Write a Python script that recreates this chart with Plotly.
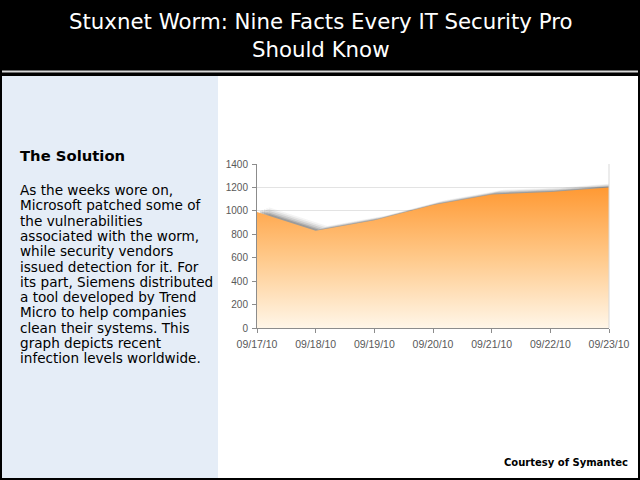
import plotly.graph_objects as go

dates = ["09/17/10", "09/18/10", "09/19/10", "09/20/10", "09/21/10", "09/22/10", "09/23/10"]
infections = [990, 830, 920, 1050, 1140, 1160, 1200]
y_ticks = [0, 200, 400, 600, 800, 1000, 1200, 1400]

title_text = "Stuxnet Worm: Nine Facts Every IT Security Pro<br>Should Know"
heading = "The Solution"
body_lines = [
    "As the weeks wore on,",
    "Microsoft patched some of",
    "the vulnerabilities",
    "associated with the worm,",
    "while security vendors",
    "issued detection for it. For",
    "its part, Siemens distributed",
    "a tool developed by Trend",
    "Micro to help companies",
    "clean their systems. This",
    "graph depicts recent",
    "infection levels worldwide.",
]
credit = "Courtesy of Symantec"

W, H = 640, 480
def px(x):
    return x / W
def py(y):
    return 1 - y / H

xs = list(range(len(dates)))
fig = go.Figure()

# soft shadow layers behind the area
for dx, dy, a in [(0.20, 40, 0.05), (0.16, 32, 0.08), (0.12, 24, 0.11), (0.08, 16, 0.15), (0.05, 9, 0.19)]:
    fig.add_trace(go.Scatter(
        x=[x + dx for x in xs], y=[v + dy for v in infections],
        mode="lines", line=dict(width=0, color="rgba(0,0,0,0)"),
        fill="tozeroy", fillcolor=f"rgba(40,40,40,{a})",
        hoverinfo="skip", showlegend=False,
    ))

fig.add_trace(go.Scatter(
    x=xs, y=infections, mode="lines",
    line=dict(width=0, color="rgba(0,0,0,0)"),
    fill="tozeroy",
    fillgradient=dict(type="vertical", start=0, stop=1200,
                      colorscale=[[0, "#fff6e8"], [0.5, "#ffc98a"], [1, "#ff9933"]]),
    showlegend=False,
))

shapes = [
    dict(type="rect", xref="paper", yref="paper", x0=px(2), x1=px(638), y0=py(478), y1=py(76),
         fillcolor="white", line=dict(width=0), layer="below"),
    dict(type="rect", xref="paper", yref="paper", x0=px(2), x1=px(218), y0=py(478), y1=py(76),
         fillcolor="#e5edf7", line=dict(width=0), layer="below"),
    dict(type="rect", xref="paper", yref="paper", x0=px(2), x1=px(638), y0=py(72.5), y1=py(70.5),
         fillcolor="#d8d8d8", line=dict(width=0), layer="below"),
    dict(type="line", xref="paper", yref="paper", x0=px(609), x1=px(609), y0=py(328), y1=py(164),
         line=dict(color="#d9d9d9", width=1)),
]

annotations = [
    dict(text=title_text, xref="paper", yref="paper", x=0.5, y=py(36), showarrow=False,
         font=dict(family="DejaVu Sans", size=21.3, color="white"), xanchor="center", yanchor="middle"),
    dict(text="<b>" + heading + "</b>", xref="paper", yref="paper", x=px(18), y=py(156),
         showarrow=False, font=dict(family="DejaVu Sans", size=14.8, color="black"),
         xanchor="left", yanchor="middle", align="left"),
    dict(text="<b>" + credit + "</b>", xref="paper", yref="paper", x=px(630), y=py(462),
         showarrow=False, font=dict(family="DejaVu Sans", size=10, color="black"),
         xanchor="right", yanchor="middle"),
]
for i, line in enumerate(body_lines):
    annotations.append(dict(text=line, xref="paper", yref="paper", x=px(18), y=py(190 + i * 15.3),
                            showarrow=False, font=dict(family="DejaVu Sans", size=13.6, color="black"),
                            xanchor="left", yanchor="middle", align="left"))

fig.update_layout(
    width=W, height=H, autosize=False,
    margin=dict(l=0, r=0, t=0, b=0, pad=0, autoexpand=False),
    paper_bgcolor="black",
    plot_bgcolor="rgba(0,0,0,0)",
    showlegend=False,
    shapes=shapes,
    annotations=annotations,
    xaxis=dict(domain=[px(257), px(609)], range=[0, 6], tickvals=xs, ticktext=dates,
               automargin=False,
               showgrid=False, zeroline=False, showline=True, linecolor="#8c8c8c",
               ticks="outside", ticklen=4, tickcolor="#8c8c8c", ticklabelstandoff=2,
               tickfont=dict(family="Liberation Sans", size=10.5, color="#595959"),
               fixedrange=True),
    yaxis=dict(domain=[py(328), py(164)], range=[0, 1400], tickvals=y_ticks,
               automargin=False,
               showgrid=True, gridcolor="#e3e3e3", zeroline=False, showline=True,
               linecolor="#8c8c8c", ticks="outside", ticklen=4, tickcolor="#8c8c8c",
               ticklabelstandoff=2,
               tickfont=dict(family="Liberation Sans", size=10, color="#595959"),
               fixedrange=True),
)

fig.write_html("out.html", config={"responsive": False, "displayModeBar": False})
